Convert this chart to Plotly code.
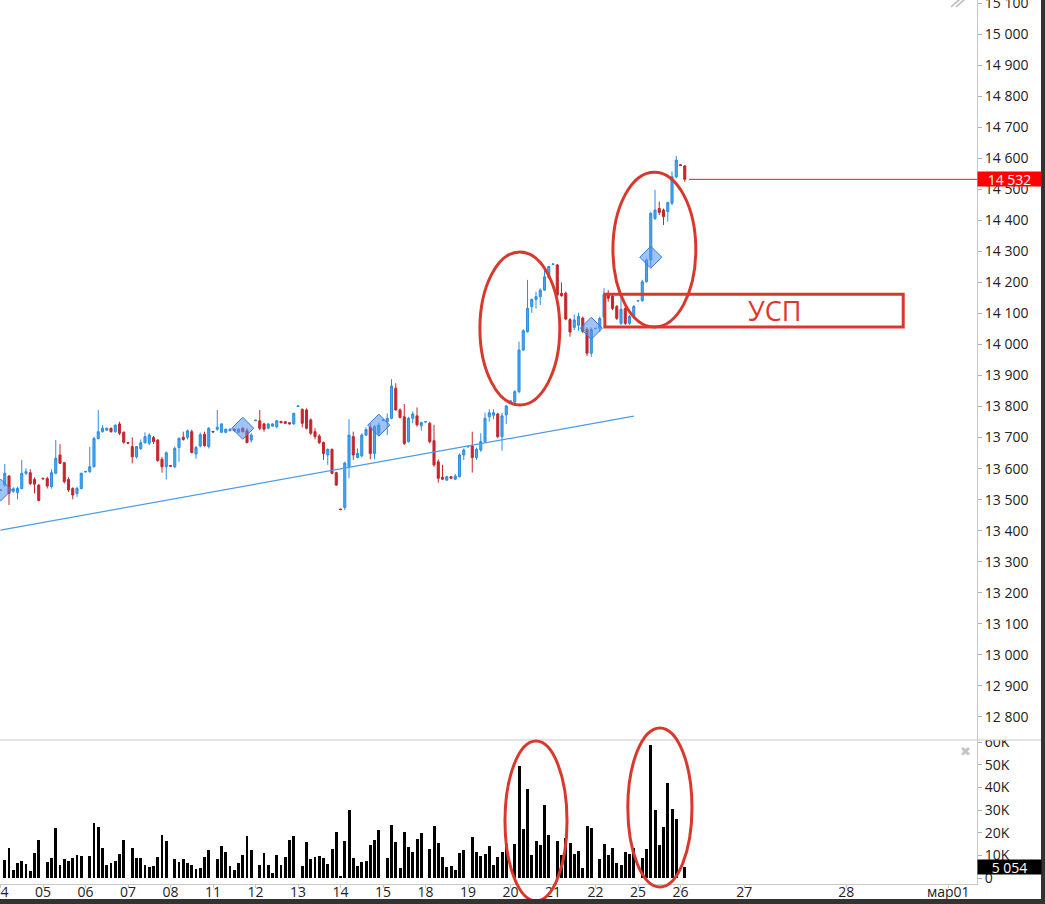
import plotly.graph_objects as go

# ---------------- data ----------------
day_labels = ["04", "05", "06", "07", "08", "11", "12", "13", "14", "15",
              "18", "19", "20", "21", "22", "25", "26"]
future_labels = ["27", "28", "мар01"]
future_gap_hours = [15, 24, 24]     # empty hourly slots before each future day
slots_per_day = 10

open_ = [13530, 13547, 13576, 13527, 13523, 13536, 13585, 13587, 13565, 13547,
         13569, 13568, 13542, 13585, 13644, 13619, 13565, 13536, 13520, 13536,
         13589, 13590, 13606, 13697, 13719, 13724, 13730, 13719, 13744, 13717,
         13684, 13671, 13638, 13665, 13683, 13682, 13700, 13692, 13630, 13606,
         13610, 13606, 13668, 13701, 13701, 13719, 13647, 13673, 13711, 13671,
         13720, 13727, 13717, 13717, 13722, 13727, 13717, 13730, 13722, 13692,
         13754, 13754, 13744, 13730, 13737, 13735, 13752, 13751, 13748, 13744,
         13800, 13791, 13789, 13757, 13719, 13705, 13684, 13644, 13662, 13587,
         13470, 13475, 13606, 13703, 13636, 13641, 13708, 13733, 13649, 13714,
         13755, 13751, 13762, 13859, 13789, 13767, 13687, 13762, 13770, 13738,
         13750, 13746, 13690, 13622, 13572, 13563, 13574, 13566, 13574, 13644,
         13670, 13673, 13636, 13660, 13687, 13767, 13772, 13776, 13703, 13773,
         13816, 13815, 13848, 13982, 14041, 14122, 14145, 14154, 14175, 14216,
         14258, 14256, 14165, 14165, 14080, 14055, 14062, 14085, 14048, 13972,
         14051, 14052, 14088, 14165, 14156, 14122, 14068, 14116, 14068, 14090,
         14140, 14141, 14202, 14272, 14406, 14438, 14433, 14428, 14455, 14540,
         14579, 14575]
high = [13533, 13615, 13579, 13540, 13542, 13628, 13601, 13598, 13572, 13550,
        13571, 13574, 13598, 13692, 13679, 13622, 13572, 13540, 13542, 13587,
        13592, 13670, 13703, 13789, 13740, 13732, 13732, 13742, 13751, 13720,
        13686, 13701, 13673, 13694, 13717, 13714, 13705, 13695, 13638, 13655,
        13611, 13671, 13701, 13719, 13726, 13726, 13673, 13716, 13719, 13733,
        13721, 13789, 13746, 13729, 13729, 13729, 13730, 13733, 13730, 13714,
        13757, 13789, 13748, 13746, 13746, 13757, 13754, 13752, 13749, 13780,
        13803, 13794, 13794, 13762, 13730, 13711, 13687, 13665, 13665, 13590,
        13471, 13622, 13759, 13719, 13665, 13714, 13733, 13746, 13740, 13748,
        13758, 13778, 13888, 13875, 13794, 13808, 13767, 13784, 13797, 13751,
        13752, 13751, 13741, 13630, 13612, 13577, 13576, 13583, 13649, 13665,
        13672, 13719, 13668, 13714, 13780, 13791, 13791, 13780, 13780, 13805,
        13819, 13853, 14009, 14049, 14208, 14148, 14170, 14181, 14245, 14253,
        14260, 14259, 14200, 14170, 14085, 14097, 14102, 14090, 14055, 14055,
        14053, 14090, 14181, 14175, 14160, 14127, 14154, 14122, 14095, 14127,
        14142, 14208, 14277, 14428, 14498, 14460, 14438, 14460, 14557, 14607,
        14580, 14578]
low = [13528, 13542, 13483, 13522, 13501, 13533, 13579, 13547, 13520, 13495,
       13566, 13536, 13536, 13582, 13615, 13552, 13525, 13501, 13509, 13533,
       13588, 13587, 13604, 13694, 13716, 13722, 13716, 13716, 13708, 13680,
       13681, 13617, 13633, 13660, 13681, 13676, 13679, 13622, 13587, 13565,
       13606, 13601, 13622, 13690, 13694, 13649, 13632, 13668, 13671, 13665,
       13717, 13722, 13714, 13714, 13720, 13720, 13714, 13716, 13681, 13684,
       13753, 13724, 13719, 13727, 13735, 13730, 13746, 13744, 13742, 13742,
       13799, 13733, 13726, 13708, 13694, 13679, 13628, 13612, 13582, 13544,
       13466, 13467, 13569, 13628, 13633, 13636, 13705, 13630, 13630, 13705,
       13754, 13708, 13759, 13787, 13762, 13676, 13684, 13746, 13735, 13722,
       13749, 13681, 13606, 13555, 13563, 13560, 13566, 13563, 13572, 13628,
       13669, 13587, 13628, 13654, 13684, 13751, 13759, 13698, 13658, 13744,
       13815, 13810, 13843, 13979, 14038, 14102, 14116, 14127, 14173, 14213,
       14257, 14154, 14154, 14078, 14025, 14046, 14044, 14036, 13963, 13960,
       14050, 14040, 14084, 14138, 14111, 14079, 14063, 14063, 14063, 14084,
       14139, 14138, 14199, 14250, 14401, 14417, 14385, 14396, 14449, 14535,
       14576, 14524]
close = [13531, 13585, 13520, 13535, 13536, 13585, 13590, 13552, 13550, 13497,
         13567, 13544, 13587, 13633, 13617, 13558, 13531, 13515, 13536, 13585,
         13591, 13606, 13697, 13719, 13730, 13730, 13719, 13740, 13714, 13685,
         13682, 13638, 13671, 13683, 13703, 13708, 13687, 13626, 13606, 13651,
         13608, 13665, 13697, 13694, 13722, 13652, 13668, 13709, 13674, 13730,
         13718, 13733, 13744, 13727, 13727, 13722, 13727, 13719, 13684, 13708,
         13756, 13730, 13727, 13744, 13744, 13754, 13748, 13746, 13744, 13778,
         13802, 13746, 13730, 13714, 13703, 13684, 13649, 13662, 13585, 13547,
         13468, 13618, 13708, 13644, 13649, 13708, 13726, 13649, 13735, 13740,
         13757, 13762, 13866, 13789, 13765, 13681, 13762, 13776, 13741, 13748,
         13751, 13687, 13612, 13569, 13566, 13574, 13569, 13576, 13644, 13660,
         13671, 13636, 13662, 13687, 13762, 13780, 13780, 13703, 13770, 13802,
         13818, 13848, 13982, 14044, 14116, 14145, 14154, 14175, 14218, 14251,
         14259, 14159, 14157, 14082, 14040, 14079, 14090, 14042, 13972, 14048,
         14052, 14084, 14160, 14149, 14116, 14084, 14113, 14068, 14090, 14122,
         14141, 14202, 14272, 14422, 14433, 14425, 14412, 14457, 14540, 14594,
         14577, 14532]
volume = [0, 7900, 13200, 3500, 6500, 7500, 6200, 3100, 11000, 16800,
          0, 7100, 8800, 22000, 5700, 8400, 7500, 8800, 10100, 9700,
          0, 9700, 24300, 22500, 13200, 5700, 6600, 7500, 10600, 16800,
          0, 13200, 8800, 8800, 5700, 5000, 5300, 9300, 19000, 16300,
          0, 8400, 7100, 8400, 6600, 5700, 4000, 4400, 9300, 12400,
          0, 8400, 14100, 11500, 5300, 3500, 6600, 10100, 18500, 12400,
          0, 5700, 11000, 5700, 2200, 10100, 5700, 9300, 16800, 18500,
          0, 5300, 15900, 8400, 9300, 9700, 8800, 6200, 12800, 20300,
          600, 16300, 30000, 8800, 5300, 7100, 7500, 14600, 16800, 21200,
          0, 8800, 23400, 15900, 4400, 20300, 13700, 11500, 17200, 19900,
          0, 12800, 22900, 15400, 9300, 4900, 5300, 3500, 11000, 12400,
          0, 18100, 11500, 9700, 10600, 14100, 5700, 9300, 11400, 14900,
          0, 14900, 49500, 21600, 39200, 10000, 16200, 14500, 32200, 18900,
          0, 16200, 10000, 17500, 15300, 10400, 11800, 4400, 22800, 21900,
          0, 8200, 14900, 10000, 13100, 6500, 5600, 11300, 10400, 13100,
          0, 8700, 12600, 58500, 29900, 14400, 22400, 41800, 30400, 26000,
          0, 5054]

signal_bar = [0, 57, 89, 139, 153]
signal_price = [13531, 13730, 13740, 14052, 14281]
trend_bar = [0, 149]
trend_price = [13402, 13769]

price_ticks = list(range(12800, 15101, 100))
volume_ticks = [0, 10000, 20000, 30000, 40000, 50000, 60000]
volume_ticktext = ["0", "10K", "20K", "30K", "40K", "50K", "60K"]
last_price = close[-1]
last_volume = volume[-1]

# ---------------- figure ----------------
bars = list(range(len(open_)))
tickvals = [i * slots_per_day for i in range(len(day_labels))]
pos = (len(day_labels) - 1) * slots_per_day
for h in future_gap_hours:
    pos += h
    tickvals.append(pos)
ticktext = day_labels + future_labels

def fmt(v):
    return f"{v:,}".replace(",", " ")

BLUE_LINE = "#2a8de0"
BLUE_FILL = "#45a7f1"
RED = "#c4262b"
HAND = "#d9392c"
FONT = "Open Sans"

fig = go.Figure()
fig.add_trace(go.Candlestick(
    x=bars, open=open_, high=high, low=low, close=close,
    increasing=dict(line=dict(color=BLUE_LINE, width=1), fillcolor=BLUE_FILL),
    decreasing=dict(line=dict(color=RED, width=1), fillcolor=RED),
    whiskerwidth=0, hoverinfo="skip", showlegend=False, xaxis="x", yaxis="y"))
fig.add_trace(go.Scatter(
    x=trend_bar, y=trend_price, mode="lines",
    line=dict(color="#4a9be8", width=1.2), hoverinfo="skip", showlegend=False,
    xaxis="x", yaxis="y"))
fig.add_trace(go.Scatter(
    x=signal_bar, y=signal_price, mode="markers",
    marker=dict(symbol="diamond", size=17, color="rgba(80,145,240,0.55)",
                line=dict(color="#3a78d8", width=1)),
    hoverinfo="skip", showlegend=False, xaxis="x", yaxis="y"))
fig.add_trace(go.Bar(
    x=bars, y=volume, width=0.7, marker=dict(color="#000000", line=dict(width=0)),
    hoverinfo="skip", showlegend=False, xaxis="x", yaxis="y2"))

W, H = 1045, 904
PLOT_W, PLOT_H = 977, 884
vol_top_frac = 144 / PLOT_H

def px_x(px):
    return px / PLOT_W

def px_y(py):
    return (PLOT_H - py) / PLOT_H

x_range = [-0.118, 229.76]

fig.update_layout(
    width=W, height=H,
    margin=dict(l=0, r=W - PLOT_W, t=0, b=H - PLOT_H, autoexpand=False),
    paper_bgcolor="white", plot_bgcolor="white",
    font=dict(family=FONT, size=14, color="#222222"),
    showlegend=False, bargap=0,
    xaxis=dict(domain=[0, 1], range=x_range, anchor="y2", automargin=False,
               tickvals=tickvals, ticktext=ticktext,
               ticks="outside", ticklen=3, tickcolor="#c8c8c8",
               ticklabelstandoff=-8, ticklabeloverflow="allow",
               showline=True, linecolor="#c8c8c8", linewidth=1,
               showgrid=False, zeroline=False, fixedrange=True,
               rangeslider=dict(visible=False),
               tickfont=dict(family=FONT, size=14, color="#222222")),
    yaxis=dict(domain=[vol_top_frac, 1], range=[12725.7, 15109.7], side="right",
               anchor="x", automargin=False, ticklabeloverflow="allow",
               tickvals=price_ticks, ticktext=[fmt(v) for v in price_ticks],
               ticks="outside", ticklen=4, tickcolor="#b0b0b0",
               showline=True, linecolor="#c8c8c8", linewidth=1,
               showgrid=False, zeroline=False, fixedrange=True,
               tickfont=dict(family=FONT, size=14, color="#222222")),
    yaxis2=dict(domain=[0, vol_top_frac], range=[-2647, 60882], side="right",
                anchor="x", automargin=False, ticklabeloverflow="allow",
                tickvals=volume_ticks, ticktext=volume_ticktext,
                ticks="outside", ticklen=4, tickcolor="#b0b0b0",
                showline=True, linecolor="#c8c8c8", linewidth=1,
                showgrid=False, zeroline=False, fixedrange=True,
                tickfont=dict(family=FONT, size=14, color="#222222")),
)

shapes = []
# hide top of "60K" like the pane clip
shapes.append(dict(type="rect", xref="paper", yref="paper",
                   x0=px_x(978), x1=px_x(1041), y0=px_y(740), y1=px_y(731),
                   fillcolor="white", line=dict(width=0), layer="above"))
# pane separator
shapes.append(dict(type="line", xref="paper", yref="paper",
                   x0=0, x1=px_x(1041), y0=vol_top_frac, y1=vol_top_frac,
                   line=dict(color="#c8c8c8", width=1), layer="above"))
# last price line
shapes.append(dict(type="line", xref="x", yref="y", x0=162, x1=x_range[1],
                   y0=last_price, y1=last_price, line=dict(color=RED, width=1)))
# hand drawn ellipses and box
shapes.append(dict(type="circle", xref="x", yref="y", x0=112.8, x1=131.6,
                   y0=13805, y1=14298, line=dict(color=HAND, width=3)))
shapes.append(dict(type="circle", xref="x", yref="y", x0=144.1, x1=163.6,
                   y0=14056, y1=14555, line=dict(color=HAND, width=3)))
shapes.append(dict(type="rect", xref="x", yref="y", x0=142.2, x1=212.4,
                   y0=14056, y1=14162, line=dict(color=HAND, width=3)))
shapes.append(dict(type="circle", xref="x", yref="paper", x0=118.7, x1=133.3,
                   y0=px_y(901), y1=px_y(741), line=dict(color=HAND, width=3)))
shapes.append(dict(type="circle", xref="x", yref="paper", x0=147.6, x1=162.7,
                   y0=px_y(887), y1=px_y(728), line=dict(color=HAND, width=3)))
# window frame
shapes.append(dict(type="rect", xref="paper", yref="paper",
                   x0=px_x(1041), x1=px_x(1046), y0=px_y(905), y1=px_y(-1),
                   fillcolor="#333333", line=dict(width=0), layer="above"))
shapes.append(dict(type="rect", xref="paper", yref="paper",
                   x0=px_x(-1), x1=px_x(1046), y0=px_y(905), y1=px_y(899),
                   fillcolor="#333333", line=dict(width=0), layer="above"))
# small toolbar glyph top right
for a in (951, 956):
    shapes.append(dict(type="line", xref="paper", yref="paper",
                       x0=px_x(a), x1=px_x(a + 9), y0=px_y(7), y1=px_y(-1),
                       line=dict(color="#b8b8b8", width=1.5), layer="above"))
fig.update_layout(shapes=shapes)

annotations = [
    dict(xref="paper", yref="y", x=1, y=last_price, xanchor="left", yanchor="middle",
         text=fmt(last_price), showarrow=False, bgcolor="#ff0000", width=63, height=14,
         align="center", borderpad=0, font=dict(family=FONT, size=14, color="white")),
    dict(xref="paper", yref="y2", x=1, y=last_volume, xanchor="left", yanchor="middle",
         text=fmt(last_volume), showarrow=False, bgcolor="#000000", width=63, height=14,
         align="center", borderpad=0, font=dict(family=FONT, size=14, color="white")),
    dict(xref="x", yref="y", x=182, y=14108, text="УСП", showarrow=False,
         font=dict(family=FONT, size=27, color=HAND)),
    dict(xref="paper", yref="paper", x=px_x(965), y=px_y(751), text="✖",
         xanchor="center", yanchor="middle",
         showarrow=False, font=dict(family="DejaVu Sans", size=13, color="#c4c4c4")),
]
fig.update_layout(annotations=annotations)

fig.write_html("out.html", config={"displayModeBar": False},
               post_script="document.body.style.margin='0';document.body.style.overflow='hidden';")
